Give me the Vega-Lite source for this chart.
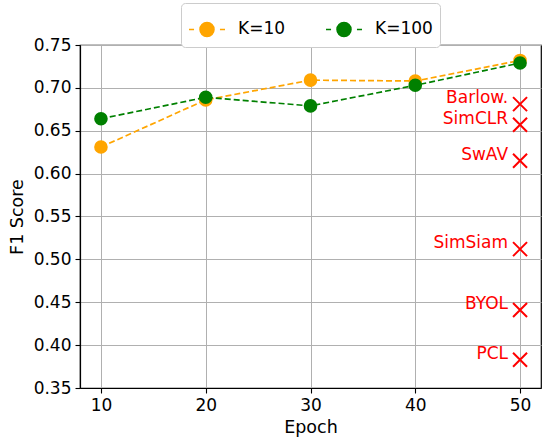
{
  "$schema": "https://vega.github.io/schema/vega-lite/v6.json",
  "width": 461,
  "height": 343,
  "autosize": {"type": "none"},
  "padding": {"left": 80, "top": 45, "right": 1, "bottom": 52},
  "background": "white",
  "config": {
    "font": "DejaVu Sans",
    "view": {"stroke": "black", "strokeWidth": 1.2},
    "axis": {
      "labelFont": "DejaVu Sans",
      "labelFontSize": 17,
      "labelColor": "black",
      "titleFont": "DejaVu Sans",
      "titleFontSize": 17.5,
      "titleFontWeight": "normal",
      "titleColor": "black",
      "gridColor": "#b0b0b0",
      "gridWidth": 1,
      "gridOpacity": 1,
      "domainColor": "black",
      "domainWidth": 1.2,
      "tickColor": "black",
      "tickSize": 5,
      "tickWidth": 1.1,
      "labelPadding": 4
    }
  },
  "datasets": {
    "series": [
      {"epoch": 10, "f1": 0.631, "k": "K=10"},
      {"epoch": 20, "f1": 0.686, "k": "K=10"},
      {"epoch": 30, "f1": 0.709, "k": "K=10"},
      {"epoch": 40, "f1": 0.708, "k": "K=10"},
      {"epoch": 50, "f1": 0.732, "k": "K=10"},
      {"epoch": 10, "f1": 0.664, "k": "K=100"},
      {"epoch": 20, "f1": 0.689, "k": "K=100"},
      {"epoch": 30, "f1": 0.679, "k": "K=100"},
      {"epoch": 40, "f1": 0.703, "k": "K=100"},
      {"epoch": 50, "f1": 0.729, "k": "K=100"}
    ],
    "baselines": [
      {"method": "Barlow.", "epoch": 50, "f1": 0.681},
      {"method": "SimCLR", "epoch": 50, "f1": 0.657},
      {"method": "SwAV", "epoch": 50, "f1": 0.615},
      {"method": "SimSiam", "epoch": 50, "f1": 0.512},
      {"method": "BYOL", "epoch": 50, "f1": 0.441},
      {"method": "PCL", "epoch": 50, "f1": 0.383}
    ]
  },
  "layer": [
    {
      "data": {"name": "series"},
      "mark": {"type": "line", "strokeDash": [6, 3], "strokeWidth": 1.7},
      "encoding": {
        "x": {"field": "epoch", "type": "quantitative", "scale": {"domain": [8, 52], "nice": false, "zero": false},
              "axis": {"values": [10, 20, 30, 40, 50], "title": "Epoch", "titlePadding": 5}},
        "y": {"field": "f1", "type": "quantitative", "scale": {"domain": [0.35, 0.75], "nice": false, "zero": false},
              "axis": {"values": [0.35, 0.4, 0.45, 0.5, 0.55, 0.6, 0.65, 0.7, 0.75], "format": ".2f", "title": "F1 Score", "titlePadding": 7}},
        "color": {"field": "k", "type": "nominal", "scale": {"domain": ["K=10", "K=100"], "range": ["#FFA500", "#008000"]}}
      }
    },
    {
      "data": {"name": "series"},
      "mark": {"type": "point", "filled": true, "shape": "circle", "size": 185, "opacity": 1},
      "encoding": {
        "x": {"field": "epoch", "type": "quantitative"},
        "y": {"field": "f1", "type": "quantitative"},
        "color": {
          "field": "k", "type": "nominal",
          "legend": {
            "title": null,
            "orient": "none",
            "legendX": 101,
            "legendY": -42,
            "direction": "horizontal",
            "columns": 2,
            "padding": 7,
            "strokeColor": "#cccccc",
            "fillColor": "white",
            "cornerRadius": 4,
            "labelFont": "DejaVu Sans",
            "labelFontSize": 17,
            "labelColor": "black",
            "labelOffset": 12,
            "columnPadding": 37,
            "symbolType": "M-1,0L-0.72,0M0.72,0L1,0M-0.39,0A0.39,0.39 0 1,0 0.39,0A0.39,0.39 0 1,0 -0.39,0Z",
            "symbolSize": 1296,
            "encode": {
              "symbols": {
                "update": {
                  "fill": {"scale": "color", "field": "value"},
                  "stroke": {"scale": "color", "field": "value"},
                  "strokeWidth": {"value": 2},
                  "strokeDash": {"value": []},
                  "opacity": {"value": 1}
                }
              }
            }
          }
        }
      }
    },
    {
      "data": {"name": "baselines"},
      "mark": {"type": "point", "shape": "M-1,-1L1,1M-1,1L1,-1", "size": 196, "strokeWidth": 2, "color": "#FF0000", "filled": false, "opacity": 1},
      "encoding": {
        "x": {"field": "epoch", "type": "quantitative"},
        "y": {"field": "f1", "type": "quantitative"}
      }
    },
    {
      "data": {"name": "baselines"},
      "mark": {"type": "text", "align": "right", "baseline": "alphabetic", "dx": -12, "dy": -1, "fontSize": 17, "font": "DejaVu Sans", "color": "#FF0000"},
      "encoding": {
        "x": {"field": "epoch", "type": "quantitative"},
        "y": {"field": "f1", "type": "quantitative"},
        "text": {"field": "method"}
      }
    }
  ]
}
